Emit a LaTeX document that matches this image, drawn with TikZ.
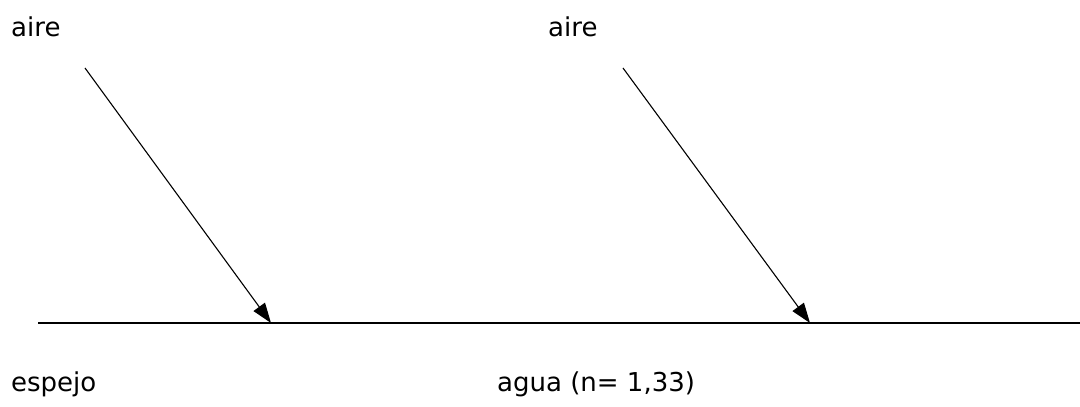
\documentclass[tikz,border=0pt]{standalone}
\usepackage{fontspec}
\setmainfont{DejaVu Sans}
\usetikzlibrary{arrows.meta}

\begin{document}
\begin{tikzpicture}[
      x=1pt, y=1pt,
      lbl/.style={anchor=base west, inner sep=0pt, font=\fontsize{26}{30}\selectfont},
      ray/.style={-{Triangle[length=20pt, width=14pt]}, line width=1.1pt}
    ]
    \useasboundingbox (0,0) rectangle (1080,407);
    % surface
    \coordinate (sl) at (38,84);
    \coordinate (sr) at (1080,84);
    \draw[line width=1.1pt] (sl) -- (sr);
    % incident rays
    \coordinate (a1) at (85,339);
    \coordinate (h1) at (271,84);
    \coordinate (a2) at (623,339);
    \coordinate (h2) at (810,84);
    \draw[ray] (a1) -- (h1);
    \draw[ray] (a2) -- (h2);
    % media
    \node[lbl] (aire1) at (11,370) {aire};
    \node[lbl] (aire2) at (548,370) {aire};
    \node[lbl] (espejo) at (11,15) {espejo};
    \node[lbl] (agua) at (497,15) {agua (n= 1,33)};
  \end{tikzpicture}
\end{document}
